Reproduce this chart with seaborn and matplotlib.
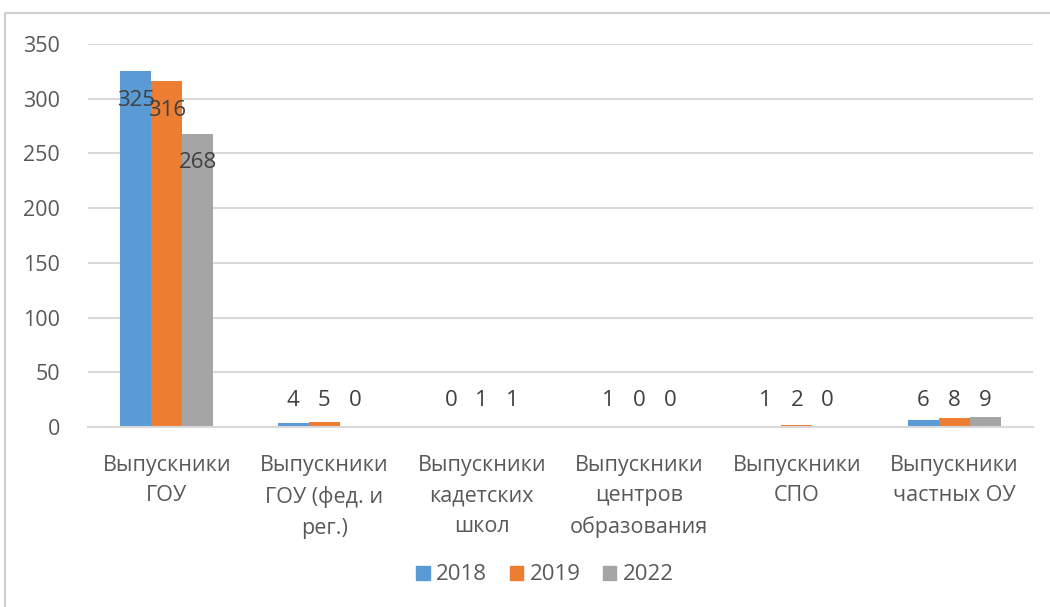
import matplotlib.pyplot as plt
import matplotlib.patches as mpatches
import numpy as np
import pandas as pd
import seaborn as sns

categories = ["Выпускники\nГОУ", "Выпускники\nГОУ (фед. и\nрег.)", "Выпускники\nкадетских\nшкол",
              "Выпускники\nцентров\nобразования", "Выпускники\nСПО", "Выпускники\nчастных ОУ"]
years = ["2018", "2019", "2022"]
v2018 = [325, 4, 0, 1, 1, 6]
v2019 = [316, 5, 1, 0, 2, 8]
v2022 = [268, 0, 1, 0, 0, 9]
colors = ["#5B9BD5", "#ED7D31", "#A5A5A5"]

df = pd.DataFrame({
    "cat": categories * 3,
    "year": [y for y in years for _ in categories],
    "val": v2018 + v2019 + v2022,
})

sns.set_style("white")
plt.rcParams["font.family"] = ["Open Sans", "DejaVu Sans"]
txt = "#595959"
grid = "#D9D9D9"

fig = plt.figure(figsize=(10.5, 6.07), dpi=100)
ax = fig.add_axes([88 / 1050, 1 - 427 / 607, (1033 - 88) / 1050, (427 - 44) / 607])

sns.barplot(data=df, x="cat", y="val", hue="year", palette=colors, width=0.59,
            gap=0, saturation=1, linewidth=0, ax=ax, legend=False)

ax.set_ylim(0, 350)
ax.set_yticks(np.arange(0, 351, 50))
ax.yaxis.grid(True, color=grid, linewidth=1.5)
ax.set_axisbelow(True)
for s in ["top", "right", "left"]:
    ax.spines[s].set_visible(False)
ax.spines["bottom"].set_color(grid)
ax.spines["bottom"].set_linewidth(1.5)
ax.set_xlabel("")
ax.set_ylabel("")
ax.tick_params(axis="both", length=0, colors=txt, labelsize=15.5)
ax.tick_params(axis="y", pad=20)
ax.tick_params(axis="x", pad=20)
for lbl in ax.get_xticklabels():
    lbl.set_linespacing(1.6)

# data labels: inside end for tall bars, fixed row above axis for small ones
for cont in ax.containers:
    for bar in cont:
        h = bar.get_height()
        cx = bar.get_x() + bar.get_width() / 2
        if h > 50:
            xy, off = (cx, h), -29
        else:
            xy, off = (cx, 0), 27
        ax.annotate(f"{h:.0f}", xy, xytext=(0, off), textcoords="offset pixels",
                    ha="center", va="center", fontsize=16, color="#404040")

handles = [mpatches.Patch(color=c, label=y) for c, y in zip(colors, years)]
fig.legend(handles=handles, loc="center", bbox_to_anchor=(545 / 1050, 1 - 575 / 607),
           ncol=3, frameon=False, fontsize=16, handlelength=0.6, handleheight=0.6,
           handletextpad=0.3, columnspacing=1.0, labelcolor=txt)

# outer chart border
fig.patches.append(mpatches.Rectangle((5 / 1050, -0.1), 1.2, 1 - 13 / 607 + 0.1,
                                      transform=fig.transFigure, fill=False,
                                      edgecolor="#D0D0D0", linewidth=1.5))

fig.savefig("out.png", dpi=100)
